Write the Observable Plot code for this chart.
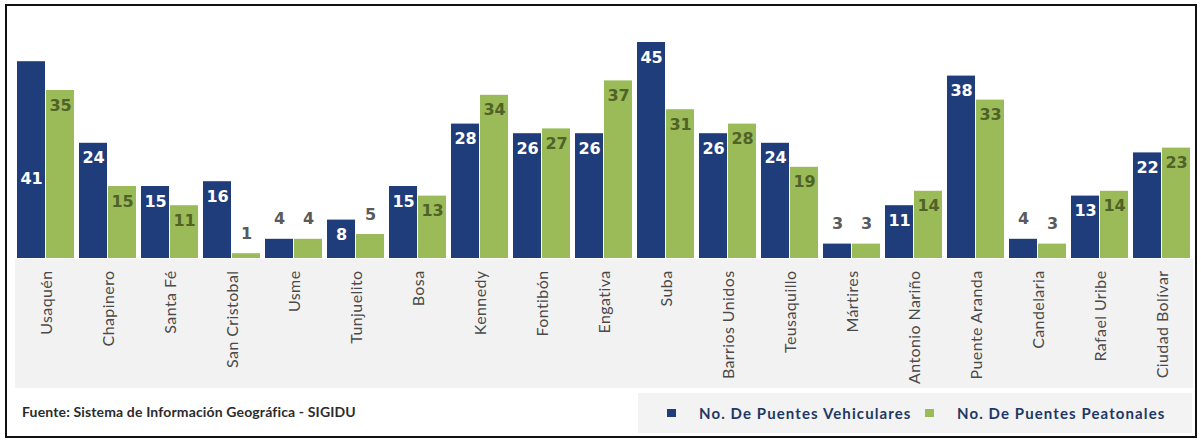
<!DOCTYPE html>
<html><head><meta charset="utf-8">
<script src="https://cdn.jsdelivr.net/npm/d3@7"></script>
<script src="https://cdn.jsdelivr.net/npm/@observablehq/plot@0.6"></script>
<style>
html,body{margin:0;padding:0;background:#fff}
body{width:1201px;height:443px;position:relative;overflow:hidden;font-family:Lato,"Open Sans",sans-serif}
#frame{position:absolute;left:5px;top:4px;width:1188px;height:430px;border:2px solid #111;box-sizing:content-box}
#band{position:absolute;left:15px;top:259px;width:1178px;height:129px;background:#f2f2f2}
#chart{position:absolute;left:0;top:0}
#source{position:absolute;left:22px;top:403px;font-weight:700;font-size:14px;letter-spacing:0.15px;color:#2b2b2b;white-space:nowrap}
#legend{position:absolute;left:638px;top:393px;width:554px;height:40px;background:#f3f3f3}
.li{position:absolute;top:0;height:40px;display:flex;align-items:center;font-weight:700;font-size:15px;letter-spacing:1.1px;color:#1f3864;white-space:nowrap}
.sw{display:inline-block;width:9px;height:8px;margin-right:23px}
#chart svg g[aria-label="fx-axis tick label"] text{letter-spacing:0.4px}
</style></head>
<body>
<div id="frame"></div>
<div id="band"></div>
<div id="chart"></div>
<div id="source">Fuente: Sistema de Información Geográfica - SIGIDU</div>
<div id="legend"></div>
<script>
const districts = ["Usaquén","Chapinero","Santa Fé","San Cristobal","Usme","Tunjuelito","Bosa","Kennedy","Fontibón","Engativa","Suba","Barrios Unidos","Teusaquillo","Mártires","Antonio Nariño","Puente Aranda","Candelaria","Rafael Uribe","Ciudad Bolívar"];
const vehiculares = [41,24,15,16,4,8,15,28,26,26,45,26,24,3,11,38,4,13,22];
const peatonales = [35,15,11,1,4,5,13,34,27,37,31,28,19,3,14,33,3,14,23];
const seriesNames = ["No.  De Puentes Vehiculares","No.  De Puentes Peatonales"];
const seriesColors = ["#1f3d7a","#9bbb59"];
const labelColors = ["#ffffff","#4f6228"];

const rows = [];
districts.forEach((d,i)=>{
  rows.push({district:d, series:seriesNames[0], value:vehiculares[i], k:0});
  rows.push({district:d, series:seriesNames[1], value:peatonales[i], k:1});
});
const inside = rows.filter(r=>r.value>=8);
const outside = rows.filter(r=>r.value<8);
// Excel moved the Usaquén vehicular label lower inside its bar
const insideY = r => (r.k===0 && r.district==="Usaquén") ? r.value*0.48 : r.value;

const chart = Plot.plot({
  width:1201, height:392,
  marginLeft:15, marginRight:8, marginTop:42, marginBottom:134,
  style:{background:"transparent", fontFamily:"Lato, sans-serif"},
  fx:{domain:districts, paddingInner:0.03, paddingOuter:0, label:null, axis:null},
  x:{domain:seriesNames, padding:0.03, axis:null},
  y:{domain:[0,45], axis:null},
  color:{domain:seriesNames, range:seriesColors},
  marks:[
    Plot.barY(rows,{fx:"district", x:"series", y:"value", fill:"series"}),
    Plot.text(inside.filter(r=>r.k===0),{fx:"district", x:"series", y:insideY, text:r=>String(r.value), dy:15, fill:labelColors[0], fontFamily:"DejaVu Sans", fontWeight:"bold", fontSize:16}),
    Plot.text(inside.filter(r=>r.k===1),{fx:"district", x:"series", y:"value", text:r=>String(r.value), dy:15, fill:labelColors[1], fontFamily:"DejaVu Sans", fontWeight:"bold", fontSize:16}),
    Plot.text(outside,{fx:"district", x:"series", y:"value", text:r=>String(r.value), dy:-20, fill:"#5a5a5a", fontFamily:"DejaVu Sans", fontWeight:"bold", fontSize:16}),
    Plot.axisFx({domain:districts, anchor:"bottom", tickRotate:-90, tickSize:0, tickPadding:12, fontSize:16, fill:"#4a4a4a", label:null})
  ]
});
document.getElementById("chart").appendChild(chart);

const lg = document.getElementById("legend");
const pos = [29, 287];
seriesNames.forEach((s,i)=>{
  const el = document.createElement("div");
  el.className="li"; el.style.left = pos[i]+"px";
  el.innerHTML = `<span class="sw" style="background:${seriesColors[i]}"></span>${s}`;
  lg.appendChild(el);
});
</script>
</body></html>
